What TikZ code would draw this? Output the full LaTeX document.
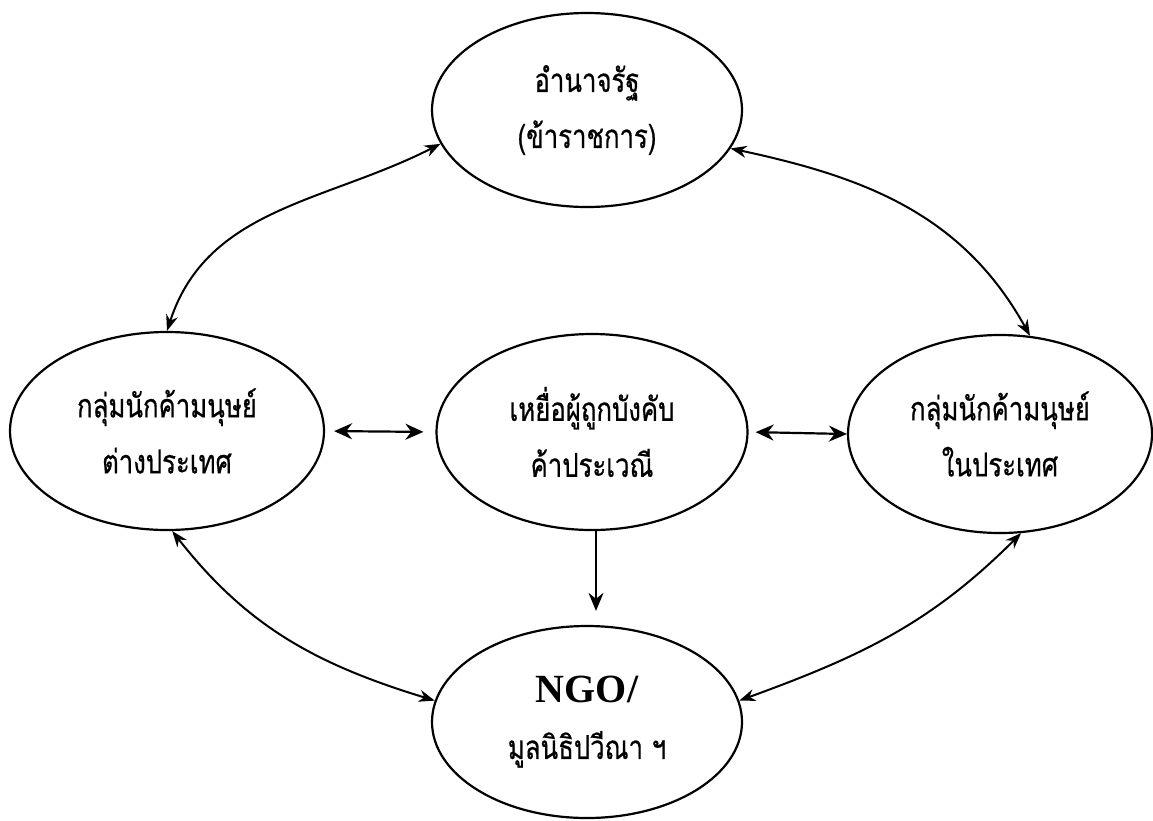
\documentclass[tikz,border=0pt]{standalone}
\usepackage{fontspec}
\newfontfamily\thaifont[Script=Thai,FakeStretch=0.78,FakeBold=0.6]{Loma}
\newfontfamily\ngofont{Liberation Serif}
\usetikzlibrary{shapes.geometric,arrows.meta}
\begin{document}
\begin{tikzpicture}[x=1pt,y=1pt,
  oval/.style={ellipse, draw, line width=2.2pt, inner sep=0pt, align=center,
    font=\thaifont\fontsize{33}{56}\selectfont},
  link/.style={line width=2pt, {Stealth[length=16pt,width=12pt]}-{Stealth[length=16pt,width=12pt]}},
  hlink/.style={line width=2.2pt, {Stealth[length=18pt,width=16pt]}-{Stealth[length=18pt,width=16pt]}},
  vlink/.style={line width=2pt, -{Stealth[length=18pt,width=15pt]}}]
\useasboundingbox (0,0) rectangle (1153,-820);
\node[oval, minimum width=310pt, minimum height=194pt] (top) at (587,-110) {อำนาจรัฐ\\(ข้าราชการ)};
\node[oval, minimum width=314pt, minimum height=198pt] (left) at (167,-431) {กลุ่มนักค้ามนุษย์\\ต่างประเทศ};
\node[oval, minimum width=311pt, minimum height=196pt] (center) at (592,-432) {เหยื่อผู้ถูกบังคับ\\ค้าประเวณี};
\node[oval, minimum width=304pt, minimum height=198pt] (right) at (1000,-434) {กลุ่มนักค้ามนุษย์\\ในประเทศ};
\node[oval, minimum width=310pt, minimum height=192pt] (bottom) at (587,-722) {{\ngofont\bfseries\fontsize{40}{42}\selectfont NGO/}\\[0pt]มูลนิธิปวีณา ฯ};
\draw[link] (top.193) to[out=207, in=72] (left.90);
\draw[link] (top.345) to[out=-12, in=119] (right.73);
\draw[link] (left.273) to[out=-52, in=163] (bottom.172);
\draw[link] (right.282) to[out=225, in=20] (bottom.8);
\draw[hlink, shorten <=9pt, shorten >=12pt] (left.east) -- (center.west);
\draw[hlink, shorten <=7pt] (center.east) -- (right.west);
\draw[vlink, shorten >=14pt] ([xshift=4pt]center.south) -- ([xshift=4pt]center.south |- bottom.north);
\end{tikzpicture}
\end{document}
